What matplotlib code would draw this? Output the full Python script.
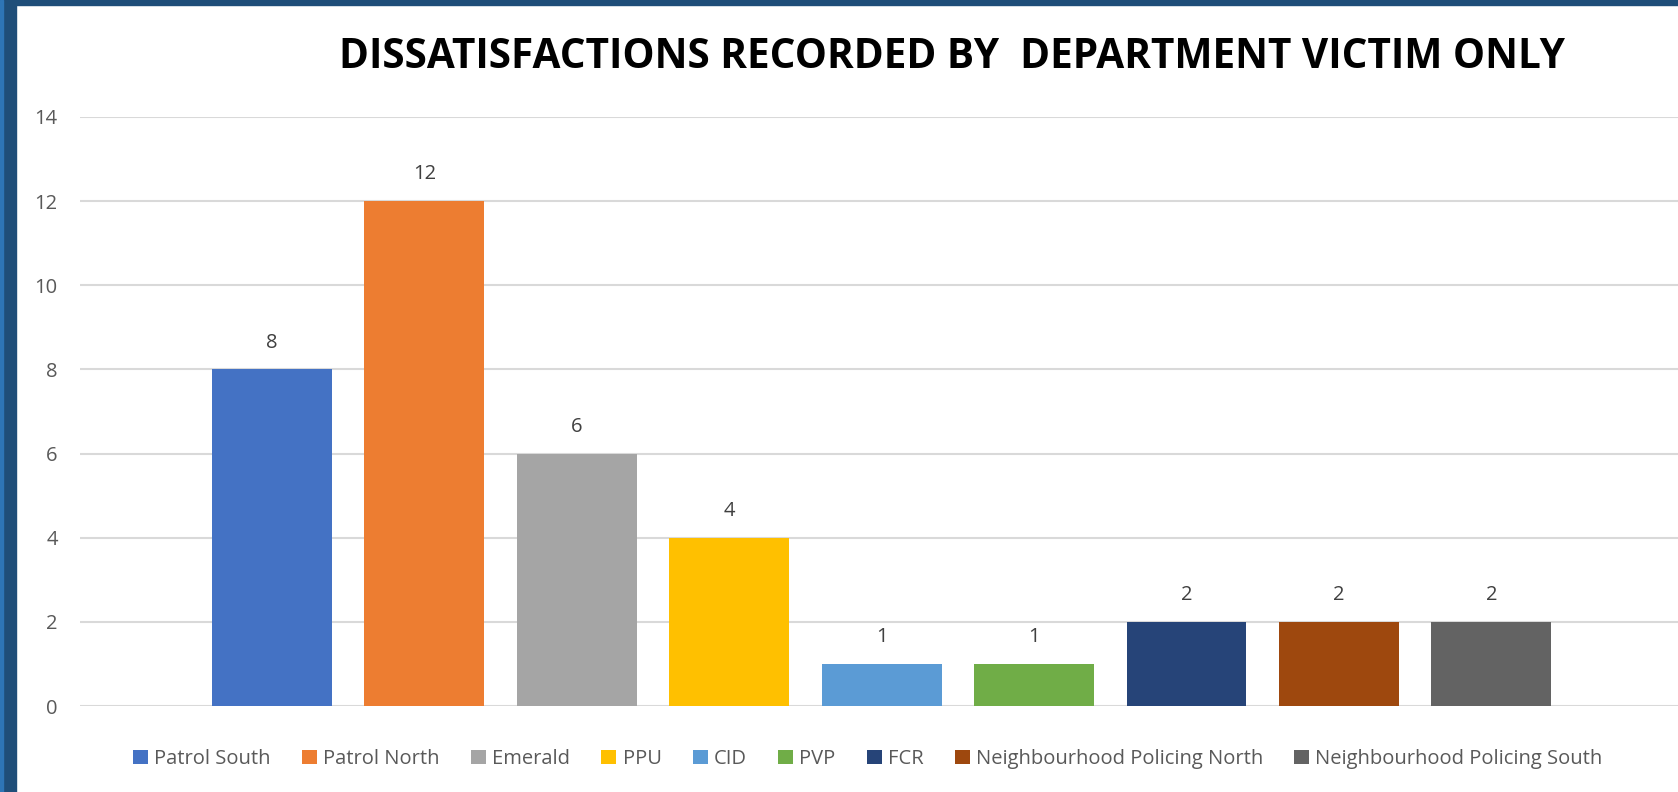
import matplotlib.pyplot as plt
from matplotlib.patches import Rectangle

plt.rcParams['font.family'] = ['Open Sans', 'DejaVu Sans']

departments = ['Patrol South', 'Patrol North', 'Emerald', 'PPU', 'CID', 'PVP', 'FCR',
               'Neighbourhood Policing North', 'Neighbourhood Policing South']
counts = [8, 12, 6, 4, 1, 1, 2, 2, 2]
colours = ['#4472C4', '#ED7D31', '#A5A5A5', '#FFC000', '#5B9BD5', '#70AD47',
           '#264478', '#9E480E', '#636363']
y_ticks = [0, 2, 4, 6, 8, 10, 12, 14]
title = 'DISSATISFACTIONS RECORDED BY  DEPARTMENT VICTIM ONLY'

W, H = 1678, 792
fig = plt.figure(figsize=(W / 100, H / 100), dpi=100)
fig.patch.set_facecolor('white')

# frame strips along the left and top edge
fig.add_artist(Rectangle((0, 0), 16 / W, 1, transform=fig.transFigure, color='#1F4E79', zorder=5))
fig.add_artist(Rectangle((0, 0), 3 / W, 1, transform=fig.transFigure, color='#2E75B6', zorder=6))
fig.add_artist(Rectangle((0, 1 - 5 / H), 1, 5 / H, transform=fig.transFigure, color='#1F4E79', zorder=5))

ax_left, ax_right = 80, 1678
y0_px, y14_px = 706, 117
ax = fig.add_axes([ax_left / W, 1 - y0_px / H, (ax_right - ax_left) / W, (y0_px - y14_px) / H])

x = range(len(departments))
bars = ax.bar(x, counts, width=0.787, color=colours, label=departments, zorder=3)

for bar, v in zip(bars, counts):
    ax.annotate(str(v), (bar.get_x() + bar.get_width() / 2, v), xytext=(0, 12),
                textcoords='offset points', ha='center', va='bottom',
                fontsize=14.5, color='#404040')

ax.set_xlim(-1.26, len(departments) - 1 + 1.225)
ax.set_ylim(0, 14)
ax.set_yticks(y_ticks)
ax.set_xticks([])
ax.grid(axis='y', color='#D9D9D9', linewidth=1.5, zorder=0)
ax.set_axisbelow(True)
for s in ax.spines.values():
    s.set_visible(False)
ax.tick_params(axis='y', length=0, pad=16, labelsize=14.5, labelcolor='#595959')

fig.text(952 / W, 1 - 57 / H, title, ha='center', va='center',
         fontsize=29.2, fontweight='bold', color='black')

fig.legend(handles=bars, labels=departments, loc='center', bbox_to_anchor=(868 / W, 1 - 759 / H),
           ncol=len(departments), frameon=False, fontsize=14.5, labelcolor='#595959',
           handlelength=0.75, handleheight=0.75, handletextpad=0.3, columnspacing=1.55)

plt.savefig('out.png', dpi=100, facecolor='white')
